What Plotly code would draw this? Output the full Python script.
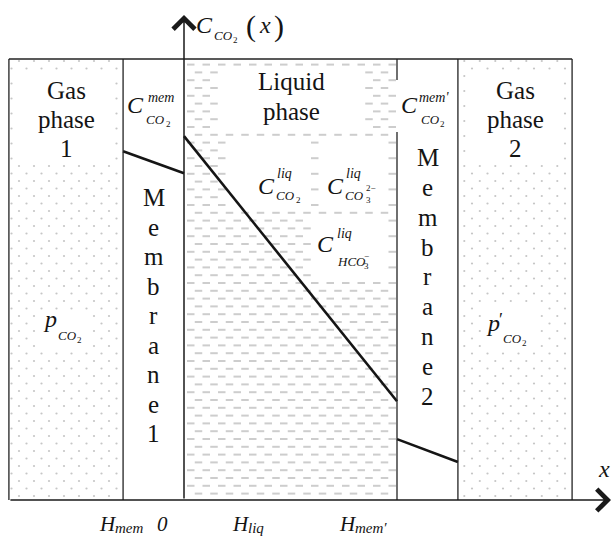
import numpy as np
import plotly.graph_objects as go

# ---------------- data ----------------
region_labels = ["Gas phase 1", "Membrane 1", "Liquid phase", "Membrane 2", "Gas phase 2"]
region_edges = [-0.822, -0.286, 0.0, 1.0, 1.286, 1.822]   # x in units of H_liq
box_top = 1.0                                              # normalised concentration
mem1_x = [-0.286, 0.0]
mem1_c = [0.791, 0.741]
liq_x = [0.0, 1.0]
liq_c = [0.825, 0.224]
mem2_x = [1.0, 1.286]
mem2_c = [0.138, 0.086]
tick_labels = ["H_mem", "0", "H_liq", "H_mem'"]

# ---------------- geometry ----------------
W, H = 611, 536
X0, SX = 184.0, 213.0     # pixel of x=0, pixels per unit
Y0, SY = 500.0, 441.0     # pixel of c=0, pixels per unit


def dx(px):
    return (px - X0) / SX


def dy(py):
    return (Y0 - py) / SY


def pxx(x):
    return X0 + SX * x


def pxy(y):
    return Y0 - SY * y


FONT = "Liberation Serif"
INK = "#141414"

fig = go.Figure()

# ---------------- textures ----------------
ex_liq = [(224, 358, 66, 132), (226, 309, 140, 209), (322, 383, 140, 210), (316, 381, 220, 278)]
ex_gas = [(15, 115, 74, 164), (37, 86, 309, 346), (468, 562, 74, 164), (482, 536, 307, 348)]


def blocked(x0, x1, y, boxes):
    for (a, b, c, d) in boxes:
        if x1 > a and x0 < b and c <= y <= d:
            return True
    return False


L = pxx(region_edges[2]) + 1.5
R = pxx(region_edges[3]) - 1.0
top_px = pxy(box_top)
bot_px = pxy(0)
dxs, dys = [], []
for k in range(60):
    py = 64.6 + 7.8 * k
    if py > bot_px - 3:
        break
    start = 187.0 if k % 2 == 0 else 194.75
    x0 = start - 15.5
    while x0 < R:
        a, b = max(x0, L), min(x0 + 7.5, R)
        if b - a > 1.5 and not blocked(a, b, py, ex_liq):
            dxs += [dx(a), dx(b), None]
            dys += [dy(py), dy(py), None]
        x0 += 15.5
fig.add_trace(go.Scatter(x=dxs, y=dys, mode="lines", line=dict(color="#cdcdcd", width=2),
                         hoverinfo="skip", showlegend=False))

gx, gy = [], []
for j in range(-47, 14):
    py = 406 + 7.5 * j
    if py < top_px + 1.5 or py > bot_px - 2:
        continue
    # gas 1
    st = 34.0 if j % 2 == 0 else 26.5
    for n in range(-5, 12):
        x = st + 15 * n
        if pxx(region_edges[0]) + 2 < x < pxx(region_edges[1]) - 2 and not blocked(x - 1, x + 1, py, ex_gas):
            gx.append(dx(x)); gy.append(dy(py))
    # gas 2
    st = 464.3 if j % 2 == 0 else 472.0
    for n in range(-2, 10):
        x = st + 15.5 * n
        if pxx(region_edges[4]) + 2 < x < pxx(region_edges[5]) - 2 and not blocked(x - 1, x + 1, py, ex_gas):
            gx.append(dx(x)); gy.append(dy(py))
fig.add_trace(go.Scatter(x=gx, y=gy, mode="markers",
                         marker=dict(size=2.2, color="#c6c6c6", line=dict(width=0)),
                         hoverinfo="skip", showlegend=False))

# ---------------- concentration profile ----------------
for xs, cs in [(mem1_x, mem1_c), (liq_x, liq_c), (mem2_x, mem2_c)]:
    fig.add_trace(go.Scatter(x=xs, y=cs, mode="lines", line=dict(color="#151515", width=2.6),
                             hoverinfo="skip", showlegend=False))

# ---------------- borders ----------------
shapes = []
lc = dict(color="#222222", width=1.3)
for e in [region_edges[0], region_edges[1], region_edges[4], region_edges[5]]:
    shapes.append(dict(type="line", xref="x", yref="y", x0=e, x1=e, y0=0, y1=box_top, line=lc, layer="above"))
e = region_edges[3]
shapes.append(dict(type="line", xref="x", yref="y", x0=e, x1=e, y0=0, y1=dy(132), line=lc, layer="above"))
shapes.append(dict(type="line", xref="x", yref="y", x0=e, x1=e, y0=dy(80), y1=box_top, line=lc, layer="above"))
shapes.append(dict(type="line", xref="x", yref="y", x0=region_edges[0], x1=region_edges[5],
                   y0=box_top, y1=box_top, line=lc, layer="above"))

# ---------------- texts ----------------
ann = []


def T(text, x, base, size=24, italic=False, anchor="center", color=INK):
    if italic:
        text = "<i>" + text + "</i>"
    cy = base - 0.3375 * size
    ann.append(dict(x=x / W, y=1 - cy / H, xref="paper", yref="paper", text=text, showarrow=False,
                    xanchor=anchor, yanchor="middle", font=dict(family=FONT, size=size, color=color),
                    borderpad=0, borderwidth=0))


BIG = 25
# gas phases
for i, w in enumerate(["Gas", "phase", "1"]):
    T(w, 66, 99 + 29 * i, BIG)
for i, w in enumerate(["Gas", "phase", "2"]):
    T(w, 515, 99 + 29 * i, BIG)
T("Liquid", 291, 90, BIG)
T("phase", 291, 120, BIG)
# membranes (vertical letters)
for i, ch in enumerate("Membrane1"):
    T(ch, 153.5, 206 + 29.5 * i, BIG)
for i, ch in enumerate("Membrane2"):
    T(ch, 427.5, 166 + 29.85 * i, BIG)

# C^mem_CO2
T("C", 135.5, 113, 24, True)
T("mem", 147.5, 102, 14, True, "left")
T("CO", 146, 124, 13, True, "left")
T("2", 165.5, 127, 9, False, "left")
# C^mem'_CO2
T("C", 410, 113, 24, True)
T("mem'", 419, 102, 14, True, "left")
T("CO", 420.5, 124, 13, True, "left")
T("2", 440, 127, 9, False, "left")
# C^liq_CO2
T("C", 266, 194, 24, True)
T("liq", 277, 178, 14, True, "left")
T("CO", 276, 200, 13, True, "left")
T("2", 295.5, 203, 9, False, "left")
# C^liq_CO3^2-
T("C", 335, 194, 24, True)
T("liq", 346, 178, 14, True, "left")
T("CO", 345.5, 200, 13, True, "left")
T("3", 365.5, 203, 9, False, "left")
T("2\u2212", 366, 191, 9, False, "left")
# C^liq_HCO3^-
T("C", 325.5, 252, 24, True)
T("liq", 337, 238, 14, True, "left")
T("HCO", 337, 266, 13, True, "left")
T("3", 363.5, 269, 9, False, "left")
T("\u2212", 364, 259, 9, False, "left")
# partial pressures
T("p", 50, 327, 24, True)
T("CO", 58, 340, 13, True, "left")
T("2", 77, 343, 9, False, "left")
T("p", 493, 331, 24, True)
T("\u2032", 498.5, 326, 18, False, "left")
T("CO", 503, 343, 13, True, "left")
T("2", 522, 346, 9, False, "left")
# y-axis title
T("C", 205, 33, 24, True)
T("CO", 214, 40, 13, True, "left")
T("2", 233, 43, 9, False, "left")
T("(", 251, 36, 30)
T("x", 265, 33, 24, True)
T(")", 279, 36, 30)
# x-axis title
T("x", 604, 477, 24, True)
# x tick labels
T("H", 108, 531, 21, True)
T("mem", 115, 533.5, 15, True, "left")
T("0", 162, 531, 21, True)
T("H", 240.5, 531, 21, True)
T("liq", 248, 533.5, 15, True, "left")
T("H", 347.5, 531, 21, True)
T("mem\u2032", 355, 533.5, 15, True, "left")

# ---------------- axis arrows ----------------
ann.append(dict(x=0, y=dy(15), ax=0, ay=0, xref="x", yref="y", axref="x", ayref="y", text="",
                showarrow=True, arrowhead=4, arrowsize=2.8, arrowwidth=1.5, arrowcolor="#1a1a1a",
                standoff=0, startstandoff=0))
ann.append(dict(x=dx(611), y=0, ax=region_edges[0], ay=0, xref="x", yref="y", axref="x", ayref="y",
                text="", showarrow=True, arrowhead=4, arrowsize=2.8, arrowwidth=1.5,
                arrowcolor="#1a1a1a", standoff=0, startstandoff=0))

fig.update_layout(
    width=W, height=H, autosize=False,
    margin=dict(l=0, r=0, t=0, b=0),
    paper_bgcolor="white", plot_bgcolor="white",
    font=dict(family=FONT),
    xaxis=dict(range=[dx(0), dx(W)], visible=False, fixedrange=True),
    yaxis=dict(range=[dy(H), dy(0)], visible=False, fixedrange=True),
    shapes=shapes, annotations=ann, showlegend=False,
)
fig.write_html("out.html")
